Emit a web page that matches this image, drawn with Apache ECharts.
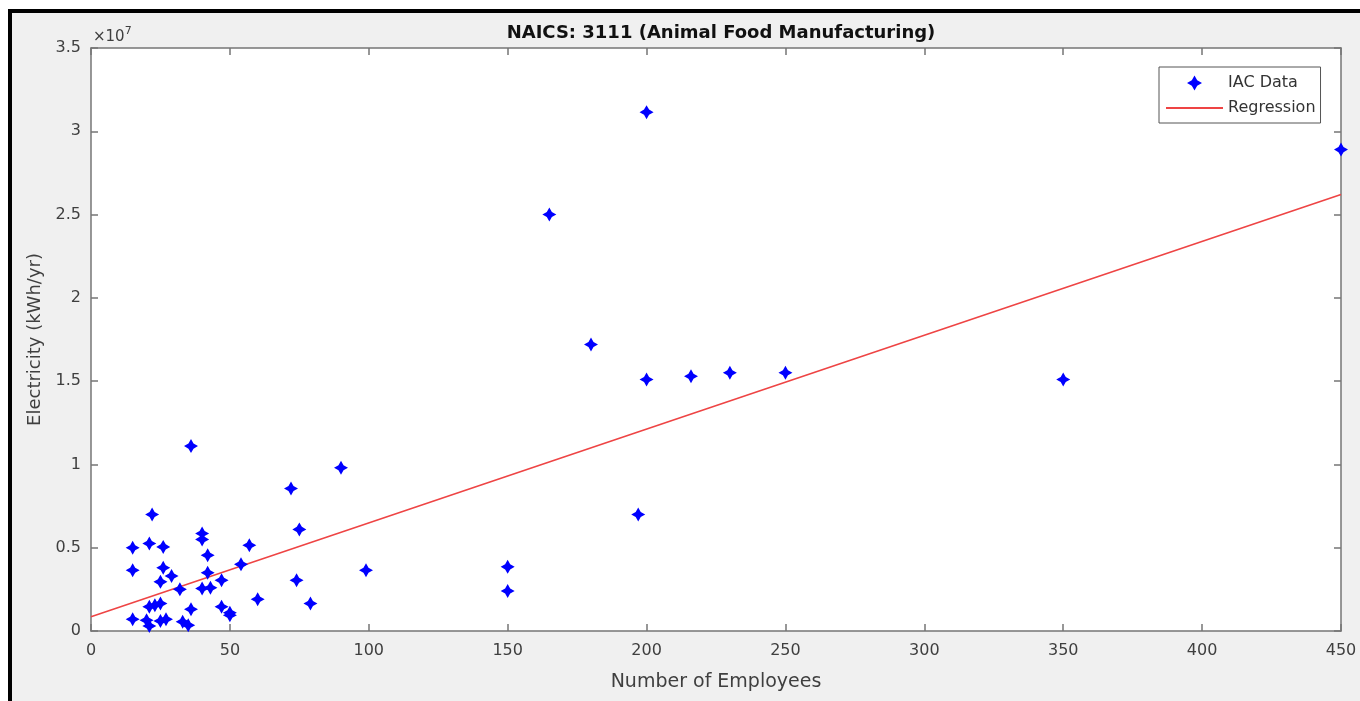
<!DOCTYPE html>
<html>
<head>
<meta charset="utf-8">
<script src="https://cdn.jsdelivr.net/npm/echarts@6/dist/echarts.min.js"></script>
<style>
html,body{margin:0;padding:0;background:#fff;}
#chart{width:1360px;height:701px;}
</style>
</head>
<body>
<div id="chart"></div>
<script>
// Data
const employees = [36,165,200,450,180,200,216,230,250,350,197,90,72,75,99,150,150,74,79,60,57,54,
  22,15,21,26,40,40,42,15,26,29,25,32,42,40,43,47,21,25,36,47,50,50,15,20,21,25,27,33,35,23];
const electricity = [11100000,25000000,31150000,28900000,17200000,15100000,15300000,15500000,15500000,15100000,
  7000000,9800000,8550000,6100000,3650000,3850000,2400000,3050000,1650000,1900000,5150000,4000000,
  7000000,5000000,5250000,5050000,5850000,5500000,4550000,3650000,3800000,3300000,2950000,2500000,
  3500000,2550000,2600000,3050000,1450000,1650000,1300000,1450000,1100000,950000,700000,650000,
  300000,600000,700000,550000,350000,1550000];
const regressionX = [0, 450];
const regressionY = [850000, 26200000];
const xTicks = [0,50,100,150,200,250,300,350,400,450];
const yTicksScaled = [0,0.5,1,1.5,2,2.5,3,3.5];

const scatterData = employees.map((x, i) => [x, electricity[i]]);
const regData = regressionX.map((x, i) => [x, regressionY[i]]);

const star = 'path://M0,-10 L3.6,-3.6 L10,0 L3.6,3.6 L0,10 L-3.6,3.6 L-10,0 L-3.6,-3.6 Z';
const axisColor = '#767676';
const labelColor = '#3f3f3f';
const font = '"DejaVu Sans", sans-serif';

const chart = echarts.init(document.getElementById('chart'));
const baseAxis = {
  axisLine: {show: true, onZero: false, lineStyle: {color: axisColor, width: 1.5}},
  axisTick: {show: true, inside: true, length: 7, lineStyle: {color: axisColor, width: 1.5}},
  splitLine: {show: false}
};
chart.setOption({
  backgroundColor: '#ffffff',
  animation: false,
  graphic: [
    {type: 'rect', z: -100, shape: {x: 10, y: 11, width: 1400, height: 800},
     style: {fill: '#f0f0f0', stroke: '#000', lineWidth: 4}},
    {type: 'text', left: 93, top: 26, z: 100,
     style: {text: '{a|×10}{b|7}', rich: {
       a: {fontSize: 15, fontFamily: font, fill: labelColor, verticalAlign: 'bottom'},
       b: {fontSize: 11, fontFamily: font, fill: labelColor, verticalAlign: 'top', padding: [0,0,8,0]}
     }}}
  ],
  title: {
    text: 'NAICS: 3111 (Animal Food Manufacturing)',
    left: 716, top: 19, textAlign: 'center',
    textStyle: {fontFamily: font, fontSize: 18, fontWeight: 'bold', color: '#111'}
  },
  legend: {
    orient: 'vertical', left: 1159, top: 67,
    backgroundColor: '#fff', borderColor: '#555', borderWidth: 1, borderRadius: 0,
    padding: [8, 5, 7, 6], itemGap: 9, itemWidth: 57, itemHeight: 15,
    textStyle: {fontFamily: font, fontSize: 16, color: '#333'},
    data: [
      {name: 'IAC Data'},
      {name: 'Regression', itemStyle: {opacity: 0}}
    ]
  },
  grid: {left: 91, right: 19, top: 48, bottom: 70, show: true, backgroundColor: '#fff', borderWidth: 0},
  xAxis: [
    Object.assign({}, baseAxis, {
      type: 'value', min: 0, max: 450, interval: 50, position: 'bottom',
      name: 'Number of Employees', nameLocation: 'middle', nameGap: 42,
      nameTextStyle: {fontFamily: font, fontSize: 19, color: labelColor},
      axisLabel: {fontFamily: font, fontSize: 16, color: labelColor, margin: 12,
        formatter: v => xTicks.includes(v) ? String(v) : ''}
    }),
    Object.assign({}, baseAxis, {
      type: 'value', min: 0, max: 450, interval: 50, position: 'top',
      axisLabel: {show: false}
    })
  ],
  yAxis: [
    Object.assign({}, baseAxis, {
      type: 'value', min: 0, max: 35000000, interval: 5000000, position: 'left',
      name: 'Electricity (kWh/yr)', nameLocation: 'middle', nameGap: 43, nameRotate: 90,
      nameTextStyle: {fontFamily: font, fontSize: 18, color: labelColor},
      axisLabel: {fontFamily: font, fontSize: 16, color: labelColor, margin: 10,
        formatter: v => { const s = v / 1e7; return yTicksScaled.includes(s) ? String(s) : ''; }}
    }),
    Object.assign({}, baseAxis, {
      type: 'value', min: 0, max: 35000000, interval: 5000000, position: 'right',
      axisLabel: {show: false}
    })
  ],
  series: [
    {name: 'IAC Data', type: 'scatter', data: scatterData, symbol: star, symbolSize: 14,
     itemStyle: {color: '#0000ff', opacity: 1}, z: 3},
    {name: 'Regression', type: 'line', data: regData, symbol: 'none',
     lineStyle: {color: '#ee4444', width: 1.6}, itemStyle: {color: '#ee4444'}, z: 2}
  ]
});
</script>
</body>
</html>
